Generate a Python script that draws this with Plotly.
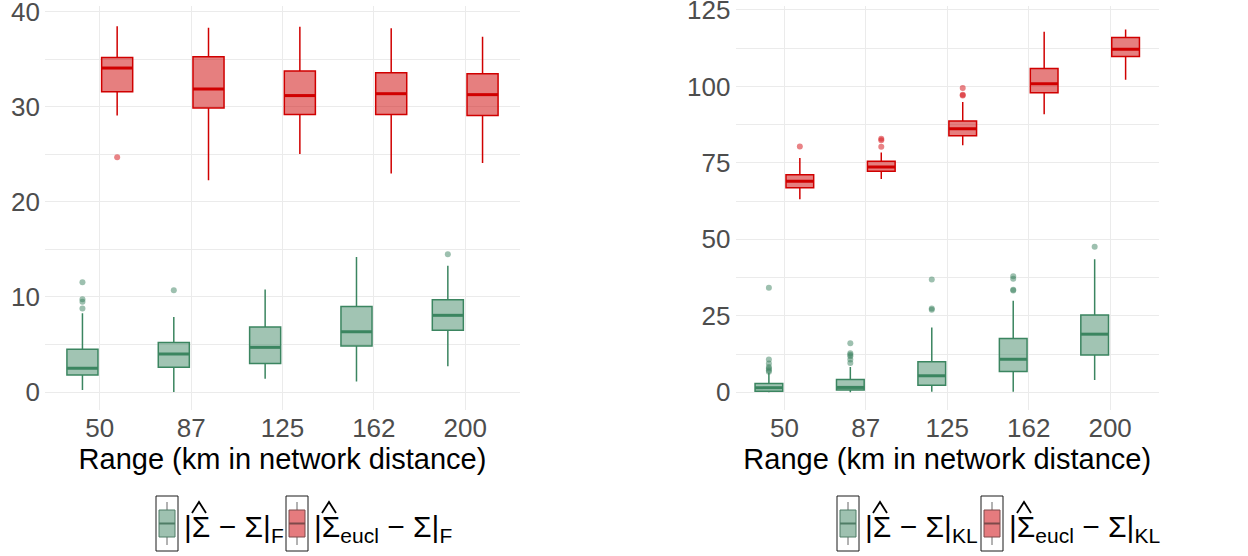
import plotly.graph_objects as go

categories = ["50", "87", "125", "162", "200"]

# Left panel: Frobenius norm
F_hat_low = [0.2, 0.0, 1.4, 1.1, 2.7]
F_hat_q1 = [1.8, 2.6, 3.0, 4.85, 6.5]
F_hat_med = [2.5, 4.0, 4.7, 6.35, 8.07]
F_hat_q3 = [4.5, 5.2, 6.85, 9.0, 9.7]
F_hat_up = [8.3, 7.9, 10.8, 14.2, 13.3]
F_hat_out = [[11.55, 9.76, 9.5, 8.8], [10.7], [], [], [14.5]]

F_eucl_low = [29.1, 22.3, 25.05, 23.0, 24.1]
F_eucl_q1 = [31.6, 29.9, 29.2, 29.2, 29.1]
F_eucl_med = [34.1, 31.9, 31.2, 31.4, 31.3]
F_eucl_q3 = [35.2, 35.3, 33.8, 33.6, 33.5]
F_eucl_up = [38.5, 38.35, 38.45, 38.3, 37.4]
F_eucl_out = [[24.7], [], [], [], []]

# Right panel: KL divergence
KL_hat_low = [0.0, 0.0, 0.2, 0.2, 4.0]
KL_hat_q1 = [0.35, 0.75, 2.3, 6.8, 12.2]
KL_hat_med = [1.5, 1.6, 5.4, 10.8, 19.0]
KL_hat_q3 = [2.9, 4.2, 10.0, 17.6, 25.3]
KL_hat_up = [6.4, 8.3, 21.2, 29.9, 43.5]
KL_hat_out = [[34.2, 10.7, 9.4, 8.3, 7.8, 7.2, 6.7],
              [16.0, 12.8, 12.3, 11.8, 10.7, 9.6],
              [36.9, 27.4, 27.0],
              [37.9, 37.1, 33.5, 33.3],
              [47.6]]

KL_eucl_low = [63.1, 69.7, 80.8, 90.9, 102.2]
KL_eucl_q1 = [66.9, 72.3, 83.9, 97.9, 109.8]
KL_eucl_med = [69.0, 73.7, 86.2, 100.9, 112.2]
KL_eucl_q3 = [71.1, 75.5, 88.7, 105.9, 116.0]
KL_eucl_up = [76.6, 78.4, 94.9, 117.9, 118.6]
KL_eucl_out = [[80.4], [82.9, 82.4, 80.3], [99.5, 97.3, 97.0], [], []]

legend_F = ["|Σ − Σ|<sub>F</sub>", "|Σ<sub>eucl</sub> − Σ|<sub>F</sub>"]
legend_KL = ["|Σ − Σ|<sub>KL</sub>", "|Σ<sub>eucl</sub> − Σ|<sub>KL</sub>"]

# ---- styles ----
GREEN_LINE = "#3b8560"
GREEN_FILL = "rgba(46,125,87,0.45)"
GREEN_PT = "rgba(60,130,95,0.5)"
GREEN_KEY = "#9ec1b0"
RED_LINE = "#d00000"
RED_FILL = "rgba(205,0,0,0.5)"
RED_PT = "rgba(215,30,35,0.55)"
RED_KEY = "#e57b7e"
FONT = "Liberation Sans, Arial, sans-serif"
DODGE = 0.19
BOXW = 0.34

positions = list(range(1, len(categories) + 1))
W, H = 1248, 556

fig = go.Figure()


def add_series(low, q1, med, q3, up, outs, offset, line, fill, pt, xa, ya):
    xs = [p + offset for p in positions]
    fig.add_trace(go.Box(
        x=xs, q1=q1, median=med, q3=q3, lowerfence=low, upperfence=up,
        width=BOXW, whiskerwidth=0, boxpoints=False,
        line=dict(color=line, width=1.5), fillcolor=fill,
        xaxis=xa, yaxis=ya, showlegend=False, hoverinfo="skip",
    ))
    # thicker median bar (ggplot style)
    mx, my = [], []
    for p, m in zip(xs, med):
        mx += [p - BOXW / 2, p + BOXW / 2, None]
        my += [m, m, None]
    fig.add_trace(go.Scatter(
        x=mx, y=my, mode="lines", xaxis=xa, yaxis=ya,
        line=dict(color=line, width=3), showlegend=False, hoverinfo="skip",
    ))
    ox, oy = [], []
    for p, vals in zip(xs, outs):
        for v in vals:
            ox.append(p)
            oy.append(v)
    fig.add_trace(go.Scatter(
        x=ox, y=oy, mode="markers", xaxis=xa, yaxis=ya,
        marker=dict(color=pt, size=6, line=dict(width=0)),
        showlegend=False, hoverinfo="skip",
    ))


add_series(F_hat_low, F_hat_q1, F_hat_med, F_hat_q3, F_hat_up, F_hat_out,
           -DODGE, GREEN_LINE, GREEN_FILL, GREEN_PT, "x", "y")
add_series(F_eucl_low, F_eucl_q1, F_eucl_med, F_eucl_q3, F_eucl_up, F_eucl_out,
           DODGE, RED_LINE, RED_FILL, RED_PT, "x", "y")
add_series(KL_hat_low, KL_hat_q1, KL_hat_med, KL_hat_q3, KL_hat_up, KL_hat_out,
           -DODGE, GREEN_LINE, GREEN_FILL, GREEN_PT, "x2", "y2")
add_series(KL_eucl_low, KL_eucl_q1, KL_eucl_med, KL_eucl_q3, KL_eucl_up, KL_eucl_out,
           DODGE, RED_LINE, RED_FILL, RED_PT, "x2", "y2")

# ---- manual ggplot-like legends (pixel positions -> paper coords) ----
shapes = []
annotations = []


def px(x):
    return x / W


def py(y):
    return 1 - y / H


def legend_key(x0, fill, line):
    top, bot = 496, 551
    x1 = x0 + 22
    xc = (x0 + x1) / 2
    shapes.append(dict(type="rect", xref="paper", yref="paper",
                       x0=px(x0), x1=px(x1), y0=py(bot), y1=py(top),
                       line=dict(color="#1a1a1a", width=1), fillcolor="white"))
    shapes.append(dict(type="line", xref="paper", yref="paper",
                       x0=px(xc), x1=px(xc), y0=py(bot - 6), y1=py(top + 6),
                       line=dict(color="#666666", width=1)))
    shapes.append(dict(type="rect", xref="paper", yref="paper",
                       x0=px(x0 + 3), x1=px(x1 - 3), y0=py(537), y1=py(510),
                       line=dict(color=line, width=1), fillcolor=fill))
    shapes.append(dict(type="line", xref="paper", yref="paper",
                       x0=px(x0 + 3), x1=px(x1 - 3), y0=py(523.5), y1=py(523.5),
                       line=dict(color=line, width=2)))


def legend_label(x0, text):
    annotations.append(dict(text=text, xref="paper", yref="paper", x=px(x0), y=py(528),
                            xanchor="left", yanchor="middle", showarrow=False,
                            font=dict(size=30, color="black", family=FONT)))
    # hat (circumflex) over the first Sigma, drawn as a chevron
    hc = x0 + 17
    shapes.append(dict(type="path", xref="paper", yref="paper",
                       path=f"M {px(hc - 7)},{py(513)} L {px(hc)},{py(502)} L {px(hc + 7)},{py(513)}",
                       line=dict(color="black", width=1.8)))


legend_key(156, GREEN_KEY, "#4f7d66")
legend_label(182, legend_F[0])
legend_key(286, RED_KEY, "#7d4a4a")
legend_label(312, legend_F[1])
legend_key(837, GREEN_KEY, "#4f7d66")
legend_label(863, legend_KL[0])
legend_key(981, RED_KEY, "#7d4a4a")
legend_label(1007, legend_KL[1])

ydom = [1 - 410 / H, 1 - 6 / H]
grid = "#ebebeb"

xaxis_common = dict(
    tickmode="array", tickvals=positions, ticktext=categories,
    range=[0.4, len(categories) + 0.6], showgrid=True, gridcolor=grid, gridwidth=1.2,
    zeroline=False, showline=False, ticks="", automargin=False,
    tickfont=dict(size=26, color="#4d4d4d", family=FONT),
    title=dict(text="Range (km in network distance)", font=dict(size=29, color="black", family=FONT), standoff=2),
)
yaxis_common = dict(
    showgrid=True, gridcolor=grid, gridwidth=1.2, zeroline=False, showline=False, ticks="",
    automargin=False, ticklabeloverflow="allow", ticklabelstandoff=4,
    tickfont=dict(size=26, color="#4d4d4d", family=FONT),
    domain=ydom,
)

fig.update_layout(
    width=W, height=H,
    margin=dict(l=0, r=0, t=0, b=0),
    paper_bgcolor="white", plot_bgcolor="white",
    font=dict(family=FONT),
    xaxis=dict(domain=[45 / W, 520 / W], anchor="y", **xaxis_common),
    xaxis2=dict(domain=[735.5 / W, 1159 / W], anchor="y2", **xaxis_common),
    yaxis=dict(anchor="x", range=[-1.895, 40.63], tickvals=[0, 10, 20, 30, 40],
               minor=dict(dtick=5, tick0=0, showgrid=True, gridcolor=grid, gridwidth=0.7),
               **yaxis_common),
    yaxis2=dict(anchor="x2", range=[-5.79, 126.3], tickvals=[0, 25, 50, 75, 100, 125],
                minor=dict(dtick=12.5, tick0=0, showgrid=True, gridcolor=grid, gridwidth=0.7),
                **yaxis_common),
    shapes=shapes,
    annotations=annotations,
    showlegend=False,
)

fig.write_html("out.html", config={"displayModeBar": False},
               post_script="document.body.style.margin='0px';document.body.style.overflow='hidden';")
